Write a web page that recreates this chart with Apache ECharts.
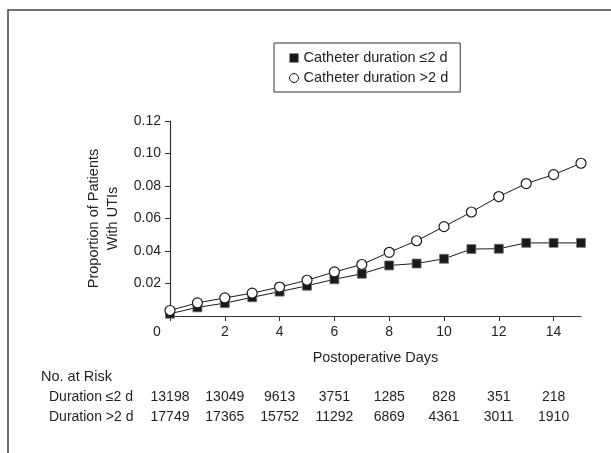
<!DOCTYPE html>
<html>
<head>
<meta charset="utf-8">
<script src="https://cdn.jsdelivr.net/npm/echarts@6/dist/echarts.min.js"></script>
<style>
  html, body { margin: 0; padding: 0; background: #fff; }
  #utiChart { width: 611px; height: 453px; }
</style>
</head>
<body>
<div id="utiChart"></div>
<script>
// data
const days = [0, 1, 2, 3, 4, 5, 6, 7, 8, 9, 10, 11, 12, 13, 14, 15]
const shortCath = [0.0014, 0.0053, 0.0079, 0.0115, 0.015, 0.0186, 0.0226, 0.026, 0.0311, 0.0323, 0.0352, 0.0412, 0.0414, 0.045, 0.045, 0.045]
const longCath = [0.0034, 0.0081, 0.0111, 0.0141, 0.0178, 0.022, 0.0271, 0.0317, 0.0392, 0.0463, 0.055, 0.064, 0.0735, 0.0815, 0.087, 0.094]
const xTicks = [0, 2, 4, 6, 8, 10, 12, 14]
const yTicks = [0.02, 0.04, 0.06, 0.08, 0.1, 0.12]
const riskShort = [13198, 13049, 9613, 3751, 1285, 828, 351, 218]
const riskLong = [17749, 17365, 15752, 11292, 6869, 4361, 3011, 1910]

const FONT = '"Liberation Sans", Arial, sans-serif'
const INK = '#231f20'

const div = document.getElementById('utiChart')
const chart = echarts.init(div)

// extra bottom axes used as the "No. at Risk" rows
function riskAxis(offset, counts) {
  return {
    type: 'value',
    gridIndex: 0,
    position: 'bottom',
    offset: offset,
    min: 0,
    max: 15,
    axisLine: { show: false },
    axisTick: { show: false },
    splitLine: { show: false },
    axisLabel: {
      customValues: xTicks,
      margin: 9,
      fontFamily: FONT,
      fontSize: 14,
      color: INK,
      formatter: (v) => String(counts[xTicks.indexOf(v)]),
    },
  }
}

chart.setOption({
  animation: false,
  grid: {
    left: 170,
    right: 30,
    top: 121,
    bottom: 137,
  },
  legend: {
    orient: 'vertical',
    left: 274,
    top: 43,
    padding: [7, 12, 6, 15],
    itemWidth: 9,
    itemHeight: 9,
    itemGap: 4,
    borderColor: '#333',
    borderWidth: 1,
    lineStyle: { opacity: 0 },
    textStyle: {
      fontFamily: FONT,
      fontSize: 14.5,
      lineHeight: 16,
      color: INK,
    },
    data: [
      { name: 'Catheter duration ≤2 d', icon: 'rect', itemStyle: { color: '#1a1a1a', borderWidth: 0 } },
      { name: 'Catheter duration >2 d', icon: 'circle', itemStyle: { color: '#fff', borderColor: '#1a1a1a', borderWidth: 1 } },
    ],
  },
  xAxis: [
    {
      type: 'value',
      min: 0,
      max: 15,
      name: 'Postoperative Days',
      nameLocation: 'middle',
      nameGap: 34,
      nameTextStyle: { fontFamily: FONT, fontSize: 14.5, color: INK },
      axisLine: { lineStyle: { color: '#333', width: 1.2 } },
      axisTick: { customValues: xTicks, length: 5, lineStyle: { color: '#333' } },
      splitLine: { show: false },
      axisLabel: {
        customValues: xTicks,
        margin: 9,
        fontFamily: FONT,
        fontSize: 14,
        color: INK,
        formatter: (v) => (v === 0 ? '{z|0}' : String(v)),
        rich: {
          z: { padding: [0, 26, 0, 0], fontFamily: FONT, fontSize: 14, color: INK },
        },
      },
    },
    riskAxis(65, riskShort),
    riskAxis(85, riskLong),
  ],
  yAxis: {
    type: 'value',
    min: 0,
    max: 0.12,
    name: 'Proportion of Patients\nWith UTIs',
    nameLocation: 'middle',
    nameGap: 42,
    nameTextStyle: { fontFamily: FONT, fontSize: 14.5, lineHeight: 19, color: INK },
    axisLine: { show: true, lineStyle: { color: '#333', width: 1.2 } },
    axisTick: { show: true, customValues: yTicks, length: 5, lineStyle: { color: '#333' } },
    splitLine: { show: false },
    axisLabel: {
      customValues: yTicks,
      margin: 9,
      fontFamily: FONT,
      fontSize: 14,
      color: INK,
      formatter: (v) => v.toFixed(2),
    },
  },
  series: [
    {
      name: 'Catheter duration ≤2 d',
      type: 'line',
      data: days.map((d, i) => [d, shortCath[i]]),
      symbol: 'rect',
      symbolSize: 9,
      color: '#1a1a1a',
      lineStyle: { color: '#1a1a1a', width: 1 },
      itemStyle: { color: '#1a1a1a', borderColor: '#777', borderWidth: 0.8 },
    },
    {
      name: 'Catheter duration >2 d',
      type: 'line',
      data: days.map((d, i) => [d, longCath[i]]),
      symbol: 'circle',
      symbolSize: 10,
      showAllSymbol: true,
      color: '#1a1a1a',
      lineStyle: { color: '#1a1a1a', width: 1 },
      itemStyle: { color: '#fff', borderColor: '#1a1a1a', borderWidth: 1.2 },
    },
  ],
  graphic: [
    {
      type: 'rect',
      z: -1,
      shape: { x: 8, y: 10, width: 700, height: 600 },
      style: { fill: 'none', stroke: '#444', lineWidth: 1.5 },
    },
    {
      type: 'text',
      x: 41,
      y: 377,
      style: { text: 'No. at Risk', font: '14.5px ' + FONT, fill: INK, verticalAlign: 'middle' },
    },
    {
      type: 'text',
      x: 49,
      y: 397,
      style: { text: 'Duration ≤2 d', font: '14px ' + FONT, fill: INK, verticalAlign: 'middle' },
    },
    {
      type: 'text',
      x: 49,
      y: 417,
      style: { text: 'Duration >2 d', font: '14px ' + FONT, fill: INK, verticalAlign: 'middle' },
    },
  ],
})
</script>
</body>
</html>
